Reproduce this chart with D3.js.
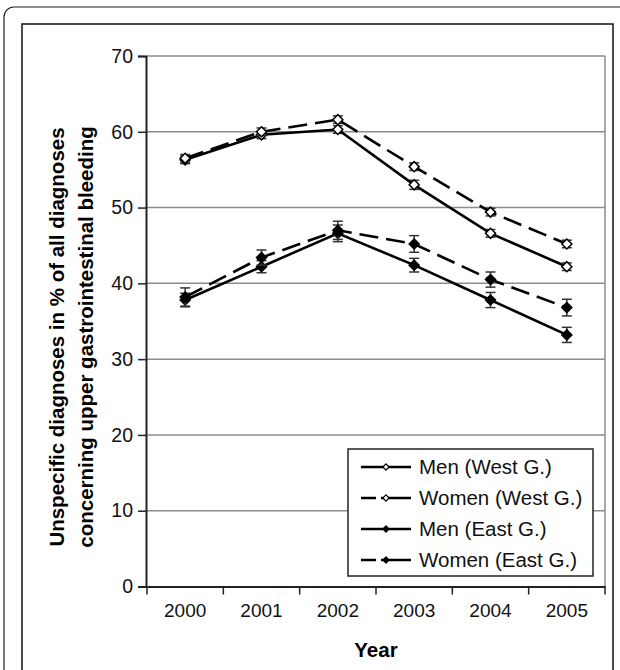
<html>
	<head>
		<meta content="text/html;charset=utf-8" http-equiv="Content-Type">
		<script src="https://d3js.org/d3.v7.min.js"></script>
		<style>
		body { margin: 0; background: #fff; }
		text { font-family: "Liberation Sans", Arial, sans-serif; }
		</style>
	</head>
	<body>
		<svg id="chart"></svg>
		<script>

	var years = ["2000", "2001", "2002", "2003", "2004", "2005"];
	var yTicks = [0, 10, 20, 30, 40, 50, 60, 70];
	var seriesNames = ["Men (West G.)", "Women (West G.)", "Men (East G.)", "Women (East G.)"];
	var menWest = [56.3, 59.6, 60.3, 53.0, 46.6, 42.2];
	var womenWest = [56.5, 60.0, 61.6, 55.4, 49.4, 45.2];
	var menEast = [37.8, 42.2, 46.6, 42.4, 37.8, 33.2];
	var womenEast = [38.2, 43.4, 47.0, 45.2, 40.5, 36.8];
	var errMenWest = [0.5, 0.5, 0.5, 0.6, 0.5, 0.5];
	var errWomenWest = [0.5, 0.5, 0.5, 0.5, 0.5, 0.5];
	var errMenEast = [0.9, 0.8, 1.1, 0.9, 1.0, 1.0];
	var errWomenEast = [1.2, 1.0, 1.2, 1.1, 1.0, 1.1];

	var FONT = "'Liberation Sans', Arial, sans-serif";

	page();

	function page(){
		var svg = d3.select("#chart").attr("width", 620).attr("height", 670);

		// frames
		svg.append("rect").attr("x", 4).attr("y", 7).attr("width", 640).attr("height", 700)
			.attr("rx", 10).style("fill", "none").style("stroke", "#222").style("stroke-width", 1.2);
		svg.append("rect").attr("x", 22).attr("y", 24).attr("width", 591).attr("height", 700)
			.style("fill", "none").style("stroke", "#111").style("stroke-width", 1.5);

		var x = d3.scaleBand().domain(years).range([147, 605]);
		var y = d3.scaleLinear().domain([0, 70]).range([586.5, 56]);
		var cx = function(d, i){ return x(years[i]) + x.bandwidth() / 2; };

		// gridlines + plot border
		svg.selectAll(".grid").data(yTicks.slice(1)).enter().append("line")
			.attr("x1", 147).attr("x2", 605)
			.attr("y1", function(d){ return y(d); }).attr("y2", function(d){ return y(d); })
			.style("stroke", "#8c8c8c").style("stroke-width", 1.5);
		svg.append("line").attr("x1", 605).attr("x2", 605).attr("y1", y(70)).attr("y2", y(0))
			.style("stroke", "#8c8c8c").style("stroke-width", 1.5);

		// y axis
		var yAxis = svg.append("g").attr("transform", "translate(146,0)")
			.call(d3.axisLeft(y).tickValues(yTicks).tickSize(8).tickPadding(5));
		yAxis.select(".domain").style("stroke", "#222").style("stroke-width", 2);
		yAxis.selectAll(".tick line").style("stroke", "#222").style("stroke-width", 1.5);
		yAxis.selectAll("text").style("font-size", "19.5px").style("fill", "#111")
			.style("font-family", FONT);

		// x axis
		var xAxis = svg.append("g").attr("transform", "translate(0," + y(0) + ")")
			.call(d3.axisBottom(x).tickSize(0).tickPadding(17));
		xAxis.select(".domain").style("stroke", "#222").style("stroke-width", 2);
		xAxis.selectAll("text").style("font-size", "19px").style("fill", "#111")
			.style("font-family", FONT);
		var bounds = years.map(function(d){ return x(d); }).concat([x(years[years.length - 1]) + x.bandwidth()]);
		svg.selectAll(".xtick").data(bounds).enter().append("line")
			.attr("x1", function(d){ return d; }).attr("x2", function(d){ return d; })
			.attr("y1", y(0)).attr("y2", y(0) + 8)
			.style("stroke", "#222").style("stroke-width", 1.5);

		// axis titles
		svg.append("text").attr("x", 376).attr("y", 657).attr("text-anchor", "middle")
			.style("font-size", "20.5px").style("font-weight", "bold").text("Year");
		var yt = svg.append("text").attr("transform", "translate(0,337) rotate(-90)")
			.attr("text-anchor", "middle").style("font-size", "20.5px").style("font-weight", "bold");
		yt.append("tspan").attr("x", 0).attr("y", 64).text("Unspecific diagnoses in % of all diagnoses");
		yt.append("tspan").attr("x", 0).attr("y", 93).text("concerning upper gastrointestinal bleeding");

		var series = [
			{ name: seriesNames[0], values: menWest, err: errMenWest, dash: null, fill: "#fff" },
			{ name: seriesNames[1], values: womenWest, err: errWomenWest, dash: "19,8", fill: "#fff" },
			{ name: seriesNames[2], values: menEast, err: errMenEast, dash: null, fill: "#000" },
			{ name: seriesNames[3], values: womenEast, err: errWomenEast, dash: "19,8", fill: "#000" }
		];

		var line = d3.line().x(cx).y(function(d){ return y(d); });
		var diamond = d3.symbol().type(d3.symbolDiamond2);

		series.forEach(function(s){
			var g = svg.append("g");
			// error bars
			s.values.forEach(function(v, i){
				var px = cx(v, i);
				var eb = g.append("g").style("stroke", "#333").style("stroke-width", 1.5);
				eb.append("line").attr("x1", px).attr("x2", px).attr("y1", y(v + s.err[i])).attr("y2", y(v - s.err[i]));
				eb.append("line").attr("x1", px - 5).attr("x2", px + 5).attr("y1", y(v + s.err[i])).attr("y2", y(v + s.err[i]));
				eb.append("line").attr("x1", px - 5).attr("x2", px + 5).attr("y1", y(v - s.err[i])).attr("y2", y(v - s.err[i]));
			});
			g.append("path").datum(s.values).attr("d", line)
				.style("fill", "none").style("stroke", "#000").style("stroke-width", 2.6)
				.style("stroke-dasharray", s.dash);
			g.selectAll(".pt").data(s.values).enter().append("path")
				.attr("d", diamond.size(64))
				.attr("transform", function(d, i){ return "translate(" + cx(d, i) + "," + y(d) + ")"; })
				.style("fill", s.fill).style("stroke", "#000").style("stroke-width", 1.5);
		});

		// legend
		var lg = svg.append("g");
		lg.append("rect").attr("x", 348).attr("y", 449).attr("width", 245).attr("height", 127)
			.style("fill", "#fff").style("stroke", "#222").style("stroke-width", 1.5);
		series.forEach(function(s, i){
			var ly = 467 + i * 31;
			lg.append("line").attr("x1", 361).attr("x2", 411).attr("y1", ly).attr("y2", ly)
				.style("stroke", "#000").style("stroke-width", 2.6)
				.style("stroke-dasharray", s.dash ? "15,5,30" : null);
			lg.append("path").attr("d", diamond.size(24)).attr("transform", "translate(386," + ly + ")")
				.style("fill", s.fill).style("stroke", "#000").style("stroke-width", 1.2);
			lg.append("text").attr("x", 419).attr("y", ly + 7).style("font-size", "20.5px")
				.style("fill", "#111").text(s.name);
		});
	}

		</script>
	</body>
</html>
